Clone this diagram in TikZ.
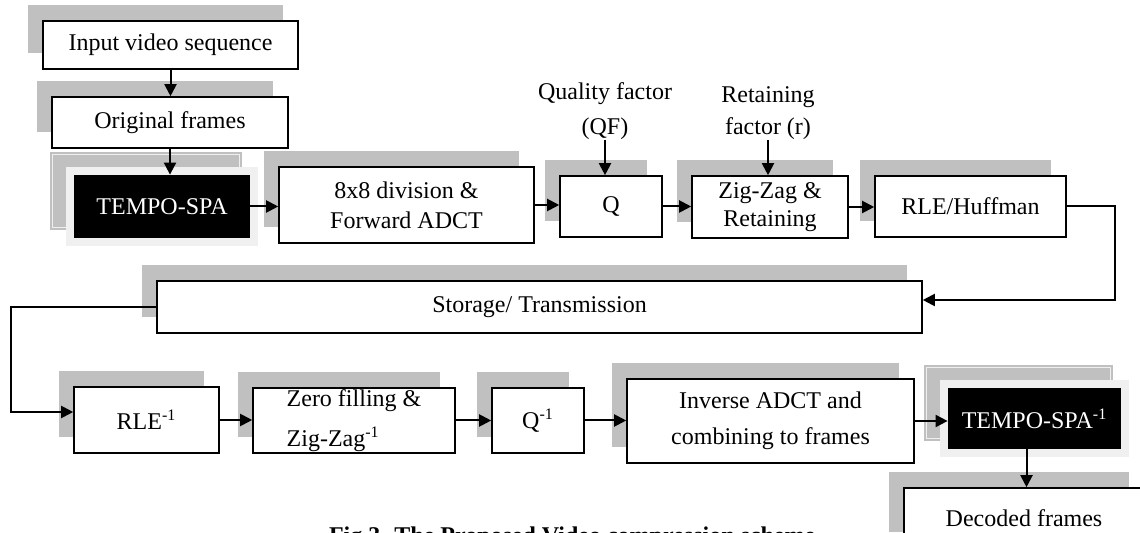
\documentclass[tikz,border=0pt]{standalone}
\usepackage{fontspec}
\setmainfont{Liberation Serif}
\usetikzlibrary{arrows.meta,shadows,calc,backgrounds,positioning}
\definecolor{shgray}{RGB}{192,192,192}
\definecolor{framegray}{RGB}{240,240,240}

\begin{document}
\begin{tikzpicture}[x=0.5pt,y=-0.5pt,font=\fontsize{12}{14}\selectfont,
    blk/.style={draw,fill=white,line width=0.8pt,inner sep=0pt,align=center,
      general shadow={fill=shgray,shadow xshift=-7.75pt,shadow yshift=7.75pt}},
    dark/.style={fill=black,text=white,inner sep=0pt,align=center},
    arr/.style={-{Triangle[length=6pt,width=6pt]},line width=1pt},
    lbl/.style={align=center,inner sep=0pt,anchor=south}]
  \useasboundingbox (0,0) rectangle (1140,533);
  \node[blk,minimum width=127.5pt,minimum height=24pt] (in) at (170.5,45) {Input video sequence};
  \node[blk,minimum width=118pt,minimum height=25.5pt] (orig) at (170,122.5) {Original frames};
  \node[dark,minimum width=88pt,minimum height=31.5pt] (tspa) at (162,206.5) {TEMPO-SPA};
  \node[blk,minimum width=127.5pt,minimum height=38pt] (dct) at (406.5,205) {8x8 division \&\\[1pt]Forward ADCT};
  \node[blk,minimum width=51pt,minimum height=30.5pt] (q) at (611,206.5) {Q};
  \node[blk,minimum width=78pt,minimum height=31pt] (zz) at (770,207) {\raisebox{-2pt}{Zig-Zag \&}\\\raisebox{-2pt}{Retaining}};
  \node[blk,minimum width=95.5pt,minimum height=30.5pt] (rle) at (970.5,206.5) {RLE/Huffman};
  \node[lbl] (qf) at (605,140) {Quality factor\\[3.5pt](QF)};
  \node[lbl] (rf) at (768,140) {Retaining\\[2pt]factor (r)};
  \node[blk,minimum width=382.5pt,minimum height=26pt] (st) at (539.5,307) {Storage/ Transmission};
  \node[blk,minimum width=72.5pt,minimum height=33pt] (irle) at (146.5,420) {RLE\textsuperscript{-1}};
  \node[blk,minimum width=101pt,minimum height=32.5pt,align=left] (zf) at (354,420.5) {Zero filling \&\\[6pt]Zig-Zag\textsuperscript{-1}};
  \node[blk,minimum width=46pt,minimum height=32.5pt] (iq) at (538,420.5) {Q\textsuperscript{-1}};
  \node[blk,minimum width=143.5pt,minimum height=42pt] (iadct) at (770.5,421) {Inverse ADCT and\\[4pt]combining to frames};
  \node[dark,minimum width=86.5pt,minimum height=30.5pt] (itspa) at (1034.5,418.5) {TEMPO-SPA\textsuperscript{-1}};
  \node[blk,minimum width=120pt,minimum height=30pt] (dec) at (1024,518) {Decoded frames};
  \node[font=\fontsize{12}{14}\selectfont\bfseries,anchor=base west] (cap) at (322,544) {Fig.3. The Proposed Video compression scheme};

  \begin{scope}[on background layer]
    \foreach \n in {tspa,itspa}{
      \fill[shgray] ($(\n.north west)+(-24,-23)$) rectangle ($(\n.south east)+(-8,-8)$);
      \draw[white!75!shgray,line width=0.5pt] ($(\n.north west)+(-21,-20)$) rectangle ($(\n.south east)+(-11,-11)$);
      \fill[framegray] ($(\n.north west)+(-8,-8)$) rectangle ($(\n.south east)+(8,8)$);
    }
  \end{scope}

  \draw[arr] (in.south) -- (in.south |- orig.north);
  \draw[arr] (orig.south) -- (orig.south |- tspa.north);
  \draw[arr] (tspa.east) -- (tspa.east -| dct.west);
  \draw[arr] (dct.east) -- (dct.east -| q.west);
  \draw[arr] (q.east) -- (q.east -| zz.west);
  \draw[arr] (zz.east) -- (zz.east -| rle.west);
  \draw[arr] (qf.south) -- (qf.south |- q.north);
  \draw[arr] (rf.south) -- (rf.south |- zz.north);
  \draw[arr] (rle.east) -- ++(48,0) |- ($(st.east)+(0,-7)$);
  \draw[arr] (st.west) -- ++(-145,0) |- ($(irle.west)+(0,-8)$);
  \draw[arr] (irle.east) -- (irle.east -| zf.west);
  \draw[arr] (zf.east) -- (zf.east -| iq.west);
  \draw[arr] (iq.east) -- (iq.east -| iadct.west);
  \draw[arr] (iadct.east) -- (iadct.east -| itspa.west);
  \draw[arr] ([xshift=-4pt]itspa.south) -- ([xshift=-4pt]itspa.south |- dec.north);
\end{tikzpicture}
\end{document}
